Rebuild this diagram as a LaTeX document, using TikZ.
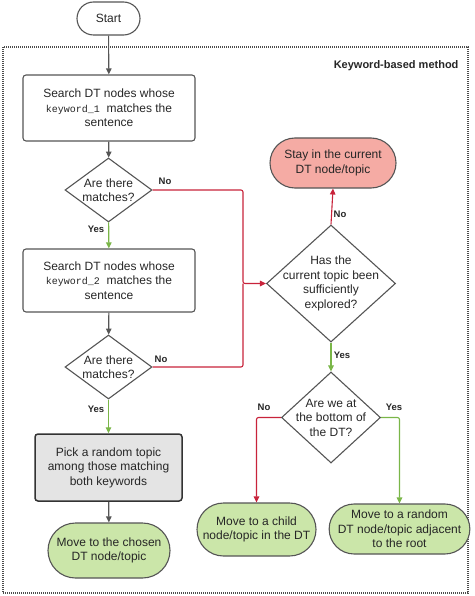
\documentclass[tikz,border=0pt]{standalone}
\usepackage{fontspec}
\setmainfont{Liberation Sans}
\setmonofont{Liberation Mono}
\usetikzlibrary{shapes.geometric,shapes.misc,arrows.meta}
\definecolor{lgray}{HTML}{555555}
\definecolor{lred}{HTML}{C8233B}
\definecolor{lgreen}{HTML}{7AB648}
\definecolor{gfill}{HTML}{CBE6A9}
\definecolor{pfill}{HTML}{F5ABA4}
\definecolor{bfill}{HTML}{E4E4E4}
\tikzset{
  base/.style={draw=lgray, line width=1.1pt, inner sep=0pt, align=center,
    font=\fontsize{12}{14.5}\selectfont, text=black!85},
  procbox/.style={base, rectangle, rounded corners=3pt},
  term/.style={base, rounded rectangle},
  dia/.style={base, diamond},
  lbl/.style={font=\fontsize{9.5}{11}\selectfont\bfseries, text=black!85},
  garrow/.style={draw=lgray, line width=1.1pt, -{Triangle[length=6pt,width=5.5pt]}},
  rarrow/.style={draw=lred, line width=1.1pt, rounded corners=2pt, -{Triangle[length=6pt,width=5.5pt]}},
  rline/.style={draw=lred, line width=1.1pt, rounded corners=2pt},
  grarrow/.style={draw=lgreen, line width=1.1pt, rounded corners=2pt, -{Triangle[length=6pt,width=5.5pt]}},
}
\newcommand{\kw}[1]{{\fontsize{10}{14.5}\selectfont\ttfamily #1}}
\begin{document}
\begin{tikzpicture}[x=1pt, y=-1pt]
\useasboundingbox (0,0) rectangle (474,596);
% frame
\draw[black!70, line width=1.3pt, dash pattern=on 1pt off 1pt] (3,47) rectangle (468,593);
\node[font=\fontsize{11}{13}\selectfont\bfseries, text=black!85, anchor=east] (title) at (462,66) {Keyword-based method};

\node[term, minimum width=63pt, minimum height=33pt] (start) at (108.5,18.5) {Start};
\node[procbox, minimum width=172pt, minimum height=66pt] (b1) at (109,108)
  {Search DT nodes whose\\\kw{keyword\_1}\ \ matches the\\sentence};
\node[dia, minimum width=87pt, minimum height=64pt,
  label={[align=center, font=\fontsize{12}{14.5}\selectfont, text=black!85]center:Are there\\matches?}] (d1) at (108.5,190) {};
\node[procbox, minimum width=172pt, minimum height=63pt] (b2) at (109,280.5)
  {Search DT nodes whose\\\kw{keyword\_2}\ \ matches the\\sentence};
\node[dia, minimum width=87pt, minimum height=64pt,
  label={[align=center, font=\fontsize{12}{14.5}\selectfont, text=black!85]center:Are there\\matches?}] (d2) at (108.5,367) {};
\node[procbox, fill=bfill, draw=black!80, line width=1.5pt, minimum width=147pt, minimum height=67pt] (b3) at (108.5,467.5)
  {Pick a random topic\\among those matching\\both keywords};
\node[term, fill=gfill, minimum width=122pt, minimum height=55pt] (e1) at (109,550.5)
  {Move to the chosen\\DT node/topic};

\node[term, fill=pfill, minimum width=126pt, minimum height=50pt] (stay) at (333,163)
  {Stay in the current\\DT node/topic};
\node[dia, minimum width=129pt, minimum height=117pt,
  label={[align=center, font=\fontsize{12}{14.5}\selectfont, text=black!85]center:Has the\\current topic been\\sufficiently\\explored?}] (d3) at (331,283.5) {};
\node[dia, minimum width=99pt, minimum height=91pt,
  label={[align=center, font=\fontsize{12}{14.5}\selectfont, text=black!85]center:Are we at\\the bottom of\\the DT?}] (d4) at (331,417.5) {};
\node[term, fill=gfill, minimum width=119pt, minimum height=53pt] (e2) at (256.5,529.5)
  {Move to a child\\node/topic in the DT};
\node[term, fill=gfill, minimum width=133pt, minimum height=50pt] (e3) at (399.5,529)
  {Move to a random\\DT node/topic adjacent\\to the root};

\coordinate (j) at (243,283.5);

% connectors
\draw[garrow] (start) -- (b1);
\draw[garrow] (b1) -- (d1);
\draw[grarrow] (d1) -- (b2);
\draw[garrow] (b2) -- (d2);
\draw[grarrow] (d2) -- (b3);
\draw[garrow] (b3) -- (e1);
\draw[rarrow] (d1.east) -| (j) -- (d3.west);
\draw[rline] (d2.east) -| (j);
\draw[rarrow] (d3.north) -- (stay.south);
\draw[grarrow] (d3.south) -- (d4.north);
\draw[rarrow] (d4.west) -| (e2.north);
\draw[grarrow] (d4.east) -| (e3.north);

% labels
\node[lbl] (l1) at (165,181) {No};
\node[lbl] (l2) at (96,229) {Yes};
\node[lbl] (l3) at (161,359) {No};
\node[lbl] (l4) at (96,409) {Yes};
\node[lbl] (l5) at (340,214) {No};
\node[lbl] (l6) at (342,355) {Yes};
\node[lbl] (l7) at (264,407) {No};
\node[lbl] (l8) at (394,407) {Yes};
\end{tikzpicture}
\end{document}
